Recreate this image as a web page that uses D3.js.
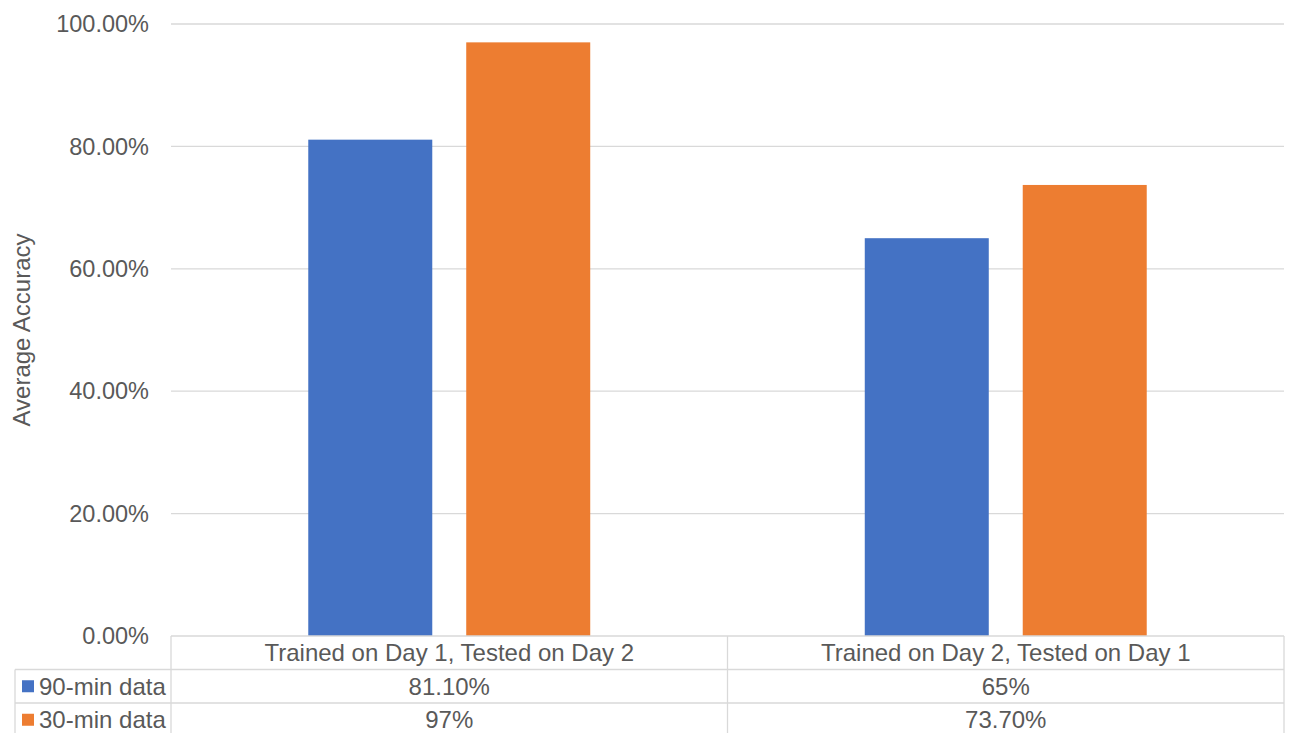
<!DOCTYPE html>
<html>
<head>
<meta charset="utf-8">
<script src="https://cdn.jsdelivr.net/npm/d3@7"></script>
<style>
  html, body { margin: 0; padding: 0; background: #fff; }
  svg { display: block; font-family: "Liberation Sans", Arial, sans-serif; }
</style>
</head>
<body>
<svg id="chart" width="1290" height="733"></svg>
<script>
// Categories, series and values
const categories = ["Trained on Day 1, Tested on Day 2", "Trained on Day 2, Tested on Day 1"];
const seriesNames = ["90-min data", "30-min data"];
const seriesColors = ["#4472C4", "#ED7D31"];
const values90 = [0.811, 0.65];
const values30 = [0.97, 0.737];
const tableLabels90 = ["81.10%", "65%"];
const tableLabels30 = ["97%", "73.70%"];
const yTicks = [0, 0.2, 0.4, 0.6, 0.8, 1.0];
const yTitle = "Average Accuracy";

const seriesValues = [values90, values30];
const tableLabels = [tableLabels90, tableLabels30];

const svg = d3.select("#chart");
const textColor = "#595959";
const gridColor = "#d9d9d9";
const fontSize = 24;
const tickFontSize = 23.5;

const plot = { left: 171, right: 1284, top: 24, bottom: 636 };
const rowH = 33.5;
const tableLeft = 15;

const x0 = d3.scaleBand().domain(categories).range([plot.left, plot.right]).paddingInner(0).paddingOuter(0);
const x1 = d3.scaleBand().domain(seriesNames).range([0, x0.bandwidth()]).paddingInner(0.215).paddingOuter(0.869);
const y = d3.scaleLinear().domain([0, 1]).range([plot.bottom, plot.top]);

// Horizontal gridlines
svg.append("g")
  .selectAll("line")
  .data(yTicks.filter(d => d > 0))
  .join("line")
  .attr("x1", plot.left).attr("x2", plot.right)
  .attr("y1", d => y(d)).attr("y2", d => y(d))
  .attr("stroke", gridColor).attr("stroke-width", 1.3);

// Y tick labels
svg.append("g")
  .selectAll("text")
  .data(yTicks)
  .join("text")
  .attr("x", plot.left - 22)
  .attr("y", d => y(d))
  .attr("dy", "0.35em")
  .attr("text-anchor", "end")
  .attr("fill", textColor)
  .attr("font-size", tickFontSize)
  .text(d => d3.format(".2%")(d));

// Y axis title
svg.append("text")
  .attr("transform", `translate(30, ${(plot.top + plot.bottom) / 2}) rotate(-90)`)
  .attr("text-anchor", "middle")
  .attr("fill", textColor)
  .attr("font-size", fontSize)
  .text(yTitle);

// Bars
const groups = svg.append("g")
  .selectAll("g")
  .data(seriesNames)
  .join("g")
  .attr("fill", (d, i) => seriesColors[i]);

groups.selectAll("rect")
  .data((s, si) => categories.map((c, ci) => ({ c, s, v: seriesValues[si][ci] })))
  .join("rect")
  .attr("x", d => x0(d.c) + x1(d.s))
  .attr("width", x1.bandwidth())
  .attr("y", d => y(d.v))
  .attr("height", d => y(0) - y(d.v));

// Data table below the plot
const table = svg.append("g").attr("stroke", gridColor).attr("stroke-width", 1.3);
// top border of the table (category axis line)
table.append("line")
  .attr("x1", plot.left).attr("x2", plot.right)
  .attr("y1", plot.bottom).attr("y2", plot.bottom);
// row separators
[1, 2].forEach(r => {
  table.append("line")
    .attr("x1", tableLeft).attr("x2", plot.right)
    .attr("y1", plot.bottom + r * rowH).attr("y2", plot.bottom + r * rowH);
});
// vertical lines
const vx = [plot.left, x0(categories[1]), plot.right];
vx.forEach(xv => {
  table.append("line")
    .attr("x1", xv).attr("x2", xv)
    .attr("y1", plot.bottom).attr("y2", 740);
});
table.append("line")
  .attr("x1", tableLeft).attr("x2", tableLeft)
  .attr("y1", plot.bottom + rowH).attr("y2", 740);

// Category labels
svg.append("g")
  .selectAll("text")
  .data(categories)
  .join("text")
  .attr("x", d => x0(d) + x0.bandwidth() / 2)
  .attr("y", plot.bottom + rowH / 2)
  .attr("dy", "0.35em")
  .attr("text-anchor", "middle")
  .attr("fill", textColor)
  .attr("font-size", fontSize)
  .text(d => d);

// Legend keys and value rows
seriesNames.forEach((name, si) => {
  const cy = plot.bottom + rowH * (si + 1) + rowH / 2;
  svg.append("rect")
    .attr("x", 22).attr("y", cy - 6)
    .attr("width", 12).attr("height", 12)
    .attr("fill", seriesColors[si]);
  svg.append("text")
    .attr("x", 39).attr("y", cy)
    .attr("dy", "0.35em")
    .attr("fill", textColor)
    .attr("font-size", fontSize)
    .text(name);
  svg.append("g")
    .selectAll("text")
    .data(categories)
    .join("text")
    .attr("x", d => x0(d) + x0.bandwidth() / 2)
    .attr("y", cy)
    .attr("dy", "0.35em")
    .attr("text-anchor", "middle")
    .attr("fill", textColor)
    .attr("font-size", fontSize)
    .text((d, ci) => tableLabels[si][ci]);
});
</script>
</body>
</html>
